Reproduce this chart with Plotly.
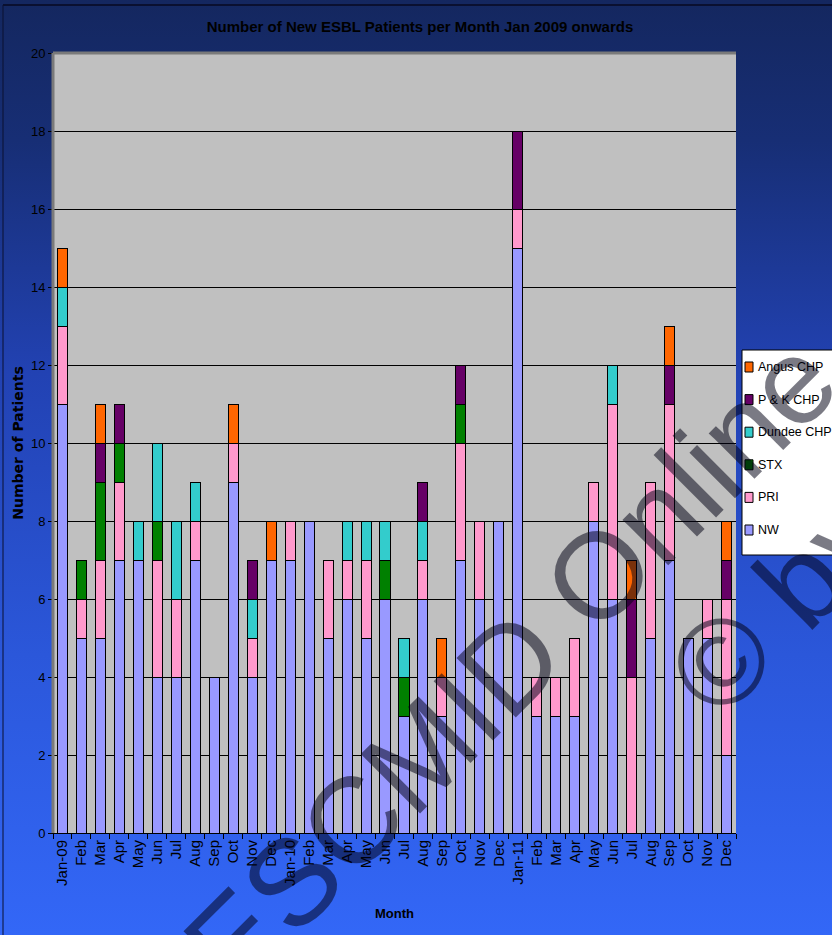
import base64
import plotly.graph_objects as go

months = ["Jan-09", "Feb", "Mar", "Apr", "May", "Jun", "Jul", "Aug", "Sep", "Oct", "Nov", "Dec",
          "Jan-10", "Feb", "Mar", "Apr", "May", "Jun", "Jul", "Aug", "Sep", "Oct", "Nov", "Dec",
          "Jan-11", "Feb", "Mar", "Apr", "May", "Jun", "Jul", "Aug", "Sep", "Oct", "Nov", "Dec"]

nw =     [11, 5, 5, 7, 7, 4, 4, 7, 4, 9, 4, 7,   7, 8, 5, 6, 5, 6, 3, 6, 3, 7, 6, 8,   15, 3, 3, 3, 8, 6, 0, 5, 7, 5, 5, 2]
pri =    [2, 1, 2, 2, 0, 3, 2, 1, 0, 1, 1, 0,    1, 0, 2, 1, 2, 0, 0, 1, 1, 3, 2, 0,   1, 1, 1, 2, 1, 5, 4, 4, 4, 0, 1, 4]
stx =    [0, 1, 2, 1, 0, 1, 0, 0, 0, 0, 0, 0,    0, 0, 0, 0, 0, 1, 1, 0, 0, 1, 0, 0,   0, 0, 0, 0, 0, 0, 0, 0, 0, 0, 0, 0]
dundee = [1, 0, 0, 0, 1, 2, 2, 1, 0, 0, 1, 0,    0, 0, 0, 1, 1, 1, 1, 1, 0, 0, 0, 0,   0, 0, 0, 0, 0, 1, 0, 0, 0, 0, 0, 0]
pk =     [0, 0, 1, 1, 0, 0, 0, 0, 0, 0, 1, 0,    0, 0, 0, 0, 0, 0, 0, 1, 0, 1, 0, 0,   2, 0, 0, 0, 0, 0, 2, 0, 1, 0, 0, 1]
angus =  [1, 0, 1, 0, 0, 0, 0, 0, 0, 1, 0, 1,    0, 0, 0, 0, 0, 0, 0, 0, 1, 0, 0, 0,   0, 0, 0, 0, 0, 0, 1, 0, 1, 0, 0, 1]

series = [
    ("NW", nw, "#9999FF"),
    ("PRI", pri, "#FF99CC"),
    ("STX", stx, "#008000"),
    ("Dundee CHP", dundee, "#33CCCC"),
    ("P & K CHP", pk, "#660066"),
    ("Angus CHP", angus, "#FF6600"),
]

W, H = 832, 935
L, R, T, B = 53, 96, 53, 102
PW, PH = W - L - R, H - T - B

ARIAL = "Liberation Sans, Arial, sans-serif"
WIDE = "DejaVu Sans, Verdana, sans-serif"


def px(xp):
    return (xp - L) / PW


def py(yp):
    return (H - B - yp) / PH


x = list(range(len(months)))

fig = go.Figure()
for name, vals, col in series:
    fig.add_trace(go.Bar(
        x=x, y=vals, name=name, showlegend=False,
        marker=dict(color=col, line=dict(color="black", width=1)),
    ))

svg = ('<svg xmlns="http://www.w3.org/2000/svg" width="832" height="935" preserveAspectRatio="none">'
       '<defs><linearGradient id="g" x1="0" y1="0" x2="0" y2="1">'
       '<stop offset="0" stop-color="#14275f"/>'
       '<stop offset="0.15" stop-color="#172e75"/>'
       '<stop offset="0.4" stop-color="#2242b3"/>'
       '<stop offset="0.7" stop-color="#2b57da"/>'
       '<stop offset="1" stop-color="#3367f7"/>'
       '</linearGradient></defs>'
       '<rect width="832" height="935" fill="url(#g)"/></svg>')
src = "data:image/svg+xml;base64," + base64.b64encode(svg.encode()).decode()

fig.update_layout(
    width=W, height=H,
    margin=dict(l=L, r=R, t=T, b=B, autoexpand=False),
    paper_bgcolor="#1c3a98",
    plot_bgcolor="#C0C0C0",
    barmode="stack",
    bargap=0.47,
    showlegend=False,
    title=dict(text="<b>Number of New ESBL Patients per Month Jan 2009 onwards</b>",
               x=420 / W, xanchor="center", y=1 - 27 / H, yanchor="middle",
               font=dict(family=ARIAL, size=15, color="black")),
    images=[dict(source=src, xref="paper", yref="paper",
                 x=-L / PW, y=1 + T / PH, sizex=W / PW, sizey=H / PH,
                 xanchor="left", yanchor="top", sizing="stretch", layer="below")],
)

fig.update_xaxes(
    range=[-0.5, len(months) - 0.5],
    tickmode="array", tickvals=x, ticktext=months, tickangle=-90,
    ticks="", showline=True, linecolor="black", linewidth=1,
    tickfont=dict(family=ARIAL, size=15, color="black"),
    minor=dict(tickmode="array", tickvals=[i - 0.5 for i in range(len(months) + 1)],
               ticks="outside", ticklen=5, tickcolor="black"),
    title=dict(text="<b>Month</b>", font=dict(family=ARIAL, size=13, color="black"), standoff=24),
    showgrid=False, zeroline=False,
)
fig.update_yaxes(
    range=[0, 20], dtick=2, tick0=0,
    ticks="outside", ticklen=4, tickcolor="black",
    showline=True, linecolor="black", linewidth=1,
    showgrid=True, gridcolor="black", gridwidth=1, zeroline=False,
    tickfont=dict(family=ARIAL, size=13, color="black"),
    title=dict(text="<b>Number of Patients</b>", font=dict(family=WIDE, size=14, color="black"), standoff=4),
)

# grey plot area (drawn over the gradient image)
fig.add_shape(type="rect", xref="paper", yref="paper", x0=0, x1=1, y0=0, y1=1,
              fillcolor="#C0C0C0", line=dict(width=0), layer="below")
# plot-area bevel (darker top/left edge)
fig.add_shape(type="line", xref="paper", yref="paper", x0=0, x1=1, y0=1, y1=1,
              line=dict(color="#7a7a7a", width=3))
fig.add_shape(type="line", xref="paper", yref="paper", x0=0, x1=0, y0=0, y1=1,
              line=dict(color="#7a7a7a", width=3))
# thin outer frame lines of the picture
fig.add_shape(type="line", xref="paper", yref="paper", x0=px(3), x1=px(832), y0=py(5), y1=py(5),
              line=dict(color="#0a1030", width=2))
fig.add_shape(type="line", xref="paper", yref="paper", x0=px(3), x1=px(3), y0=py(5), y1=py(935),
              line=dict(color="#0a1030", width=1))

# legend box (drawn manually, cut by the right edge as in the original)
LEG_X, LEG_TOP, LEG_BOT, LEG_STEP = 742, 350, 555, 32.6
fig.add_shape(type="rect", xref="paper", yref="paper",
              x0=px(LEG_X), x1=px(W + 20), y0=py(LEG_BOT), y1=py(LEG_TOP),
              fillcolor="white", line=dict(color="black", width=1))
for k, (name, vals, col) in enumerate(reversed(series)):
    yc = 367 + k * LEG_STEP
    fig.add_shape(type="rect", xref="paper", yref="paper",
                  x0=px(745), x1=px(753), y0=py(yc + 5), y1=py(yc - 5),
                  fillcolor=col, line=dict(color="black", width=1))
    fig.add_annotation(text=name, xref="paper", yref="paper", x=px(756), y=py(yc),
                       xanchor="left", yanchor="middle", showarrow=False,
                       font=dict(family=ARIAL, size=12.5, color="black"))

# watermark
wm_font = dict(family=ARIAL, size=122, color="rgba(0,0,20,0.52)")
fig.add_annotation(text="ESCMID Online", xref="paper", yref="paper",
                   x=px(510), y=py(664), xanchor="center", yanchor="middle", showarrow=False,
                   textangle=-45, font=wm_font)
fig.add_annotation(text="© by author", xref="paper", yref="paper",
                   x=px(913), y=py(470), xanchor="center", yanchor="middle", showarrow=False,
                   textangle=-45, font=wm_font)

fig.write_html("out.html")
